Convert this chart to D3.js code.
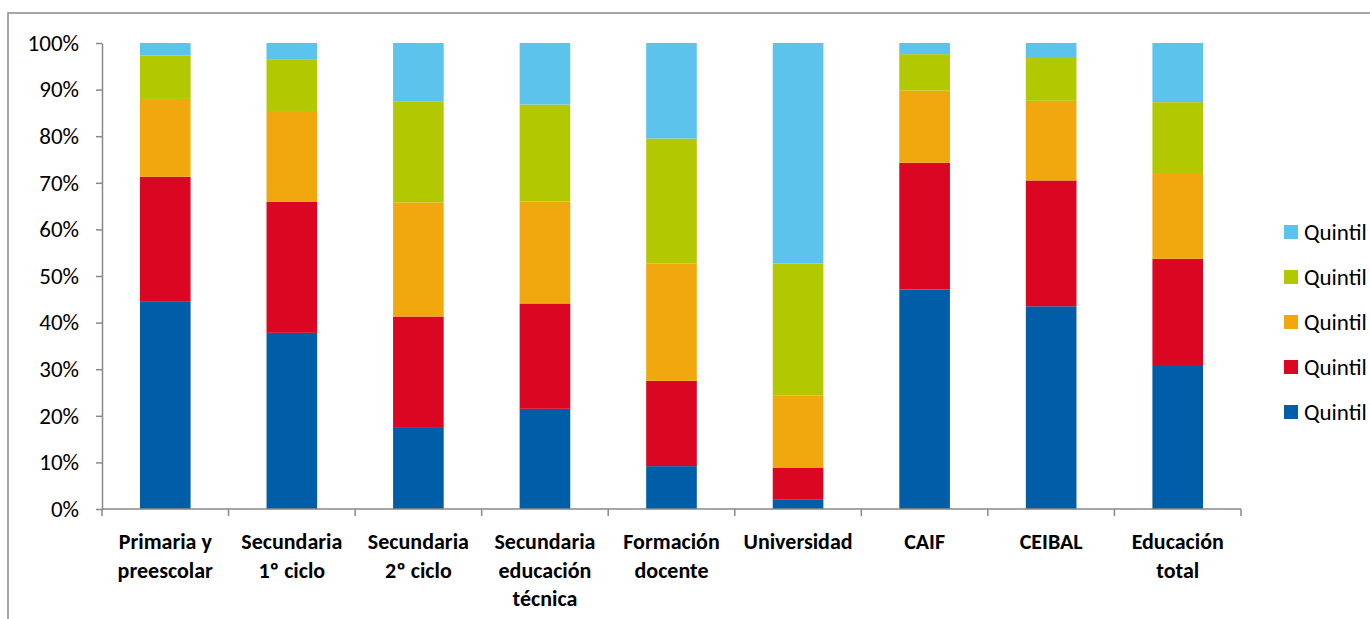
<!DOCTYPE html>
<html>
<head>
<meta charset="utf-8">
<script src="https://cdn.jsdelivr.net/npm/d3@7"></script>
<style>
  html, body { margin: 0; padding: 0; background: #fff; overflow: hidden; }
  svg { display: block; font-family: Carlito, Calibri, Lato, "Open Sans", sans-serif; }
</style>
</head>
<body>
<svg id="chart" width="1370" height="619"></svg>
<script>
// Categories (multi-line labels split on "\n")
const categories = [
  "Primaria y\npreescolar",
  "Secundaria\n1º ciclo",
  "Secundaria\n2º ciclo",
  "Secundaria\neducación\ntécnica",
  "Formación\ndocente",
  "Universidad",
  "CAIF",
  "CEIBAL",
  "Educación\ntotal"
];

// Share of each income quintile, in percent, per category
const quintil1 = [44.6, 37.8, 17.4, 21.5,  9.2,  2.1, 47.1, 43.5, 30.9];
const quintil2 = [26.7, 28.1, 23.9, 22.6, 18.3,  6.7, 27.2, 27.0, 22.8];
const quintil3 = [16.7, 19.5, 24.5, 21.9, 25.2, 15.6, 15.5, 17.1, 18.2];
const quintil4 = [ 9.3, 11.0, 21.7, 20.8, 26.8, 28.3,  7.8,  9.4, 15.4];
const quintil5 = [ 2.7,  3.6, 12.5, 13.2, 20.5, 47.3,  2.4,  3.0, 12.7];

const seriesNames = ["Quintil 1", "Quintil 2", "Quintil 3", "Quintil 4", "Quintil 5"];
const seriesValues = [quintil1, quintil2, quintil3, quintil4, quintil5];
const seriesColors = ["#005EA8", "#DA0622", "#F1A70E", "#B2C800", "#5BC3EC"];

const yTicks = [0, 10, 20, 30, 40, 50, 60, 70, 80, 90, 100];

const FONT = "Carlito, Calibri, Lato, 'Open Sans', sans-serif";
const svg = d3.select("#chart");

// Outer chart-area frame
svg.append("rect")
  .attr("x", 8).attr("y", 13)
  .attr("width", 1400).attr("height", 640)
  .attr("fill", "none")
  .attr("stroke", "#898989")
  .attr("stroke-width", 1.5);

const plot = { left: 102, right: 1241, top: 43, bottom: 509 };

const x = d3.scaleBand()
  .domain(categories)
  .range([plot.left, plot.right])
  .paddingInner(0.6)
  .paddingOuter(0.3);

const y = d3.scaleLinear()
  .domain([0, 100])
  .range([plot.bottom, plot.top]);

// Stack the quintiles, normalised to 100%
const rows = categories.map((c, i) => {
  const r = { cat: c };
  seriesNames.forEach((s, j) => { r[s] = seriesValues[j][i]; });
  return r;
});
const stacked = d3.stack().keys(seriesNames).offset(d3.stackOffsetExpand)(rows);

const g = svg.append("g");
g.selectAll("g.series")
  .data(stacked)
  .join("g")
  .attr("class", "series")
  .attr("fill", (d, i) => seriesColors[i])
  .selectAll("rect")
  .data(d => d)
  .join("rect")
  .attr("x", d => x(d.data.cat))
  .attr("width", x.bandwidth())
  .attr("y", d => y(d[1] * 100))
  .attr("height", d => y(d[0] * 100) - y(d[1] * 100));

// Y axis
const yAxis = d3.axisLeft(y)
  .tickValues(yTicks)
  .tickFormat(d => d + "%")
  .tickSizeInner(6)
  .tickSizeOuter(0)
  .tickPadding(17);
const yG = svg.append("g")
  .attr("transform", `translate(${plot.left},0)`)
  .call(yAxis);
yG.select(".domain").attr("stroke", "#898989").attr("stroke-width", 1.5);
yG.selectAll(".tick line").attr("stroke", "#898989").attr("stroke-width", 1.5);
yG.selectAll(".tick text")
  .attr("fill", "#000")
  .style("font-size", "23px")
  .style("font-family", FONT);

// X axis: line plus ticks at category boundaries
const boundaries = d3.range(categories.length + 1).map(i => plot.left + i * (plot.right - plot.left) / categories.length);
svg.append("line")
  .attr("x1", plot.left).attr("x2", plot.right)
  .attr("y1", plot.bottom).attr("y2", plot.bottom)
  .attr("stroke", "#898989").attr("stroke-width", 1.5);
svg.selectAll("line.xtick")
  .data(boundaries)
  .join("line")
  .attr("class", "xtick")
  .attr("x1", d => d).attr("x2", d => d)
  .attr("y1", plot.bottom).attr("y2", plot.bottom + 7)
  .attr("stroke", "#898989").attr("stroke-width", 1.5);

// Category labels
const labels = svg.selectAll("text.cat")
  .data(categories)
  .join("text")
  .attr("class", "cat")
  .attr("text-anchor", "middle")
  .attr("font-weight", "bold")
  .style("font-size", "22px")
  .attr("fill", "#000")
  .attr("transform", d => `translate(${x(d) + x.bandwidth() / 2},549)`);
labels.selectAll("tspan")
  .data(d => d.split("\n"))
  .join("tspan")
  .attr("x", 0)
  .attr("dy", (d, i) => i === 0 ? 0 : 28.5)
  .text(d => d);

// Legend, top entry is the last series
const legendItems = seriesNames.map((s, i) => ({ name: s, color: seriesColors[i] })).reverse();
const legend = svg.append("g");
const lg = legend.selectAll("g")
  .data(legendItems)
  .join("g")
  .attr("transform", (d, i) => `translate(1284,${232 + i * 45})`);
lg.append("rect")
  .attr("x", 0).attr("y", -7)
  .attr("width", 14).attr("height", 14)
  .attr("fill", d => d.color);
lg.append("text")
  .attr("x", 20).attr("y", 8)
  .style("font-size", "23px")
  .attr("fill", "#000")
  .text(d => d.name);
</script>
</body>
</html>
